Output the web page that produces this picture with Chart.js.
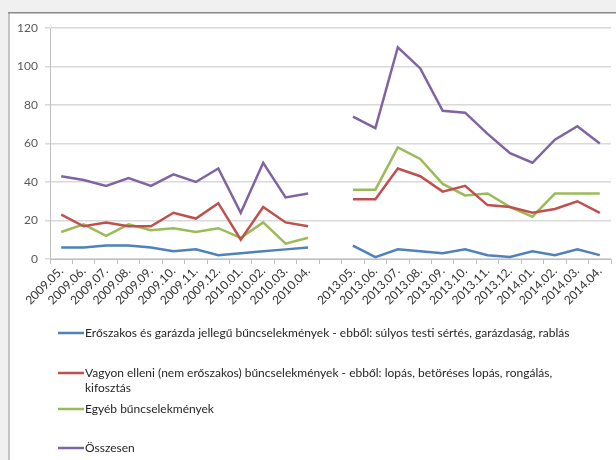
<!DOCTYPE html>
<html>
<head>
<meta charset="utf-8">
<script src="https://cdn.jsdelivr.net/npm/chart.js@4.4.0/dist/chart.umd.min.js"></script>
<style>
html,body{margin:0;padding:0;background:#f0f0f0;}
#wrap{position:relative;width:616px;height:460px;}
canvas{display:block;}
</style>
</head>
<body>
<div id="wrap"><canvas id="c" width="616" height="460"></canvas></div>
<script>
const categories = ['2009.05.','2009.06.','2009.07.','2009.08.','2009.09.','2009.10.','2009.11.','2009.12.','2010.01.','2010.02.','2010.03.','2010.04.','',
  '2013.05.','2013.06.','2013.07.','2013.08.','2013.09.','2013.10.','2013.11.','2013.12.','2014.01.','2014.02.','2014.03.','2014.04.'];
const violent  = [6,6,7,7,6,4,5,2,3,4,5,6,null, 7,1,5,4,3,5,2,1,4,2,5,2];
const property = [23,17,19,17,17,24,21,29,10,27,19,17,null, 31,31,47,43,35,38,28,27,24,26,30,24];
const other    = [14,18,12,18,15,16,14,16,11,19,8,11,null, 36,36,58,52,39,33,34,27,22,34,34,34];
const total    = [43,41,38,42,38,44,40,47,24,50,32,34,null, 74,68,110,99,77,76,65,55,50,62,69,60];
const yTicks = [0,20,40,60,80,100,120];
const seriesLabels = [
  ['Erőszakos és garázda jellegű bűncselekmények - ebből: súlyos testi sértés, garázdaság, rablás'],
  ['Vagyon elleni (nem erőszakos) bűncselekmények - ebből: lopás, betöréses lopás, rongálás,','kifosztás'],
  ['Egyéb bűncselekmények'],
  ['Összesen']
];
const colors = ['#4F81BD','#C0504D','#9BBB59','#8064A2'];
const FONT = 'Lato, "Open Sans", sans-serif';

const framePlugin = {
  id:'frame',
  beforeDraw(chart){
    const ctx = chart.ctx;
    ctx.save();
    ctx.fillStyle = '#f0f0f0';
    ctx.fillRect(0,0,chart.width,chart.height);
    ctx.fillStyle = '#ffffff';
    ctx.fillRect(9,13,chart.width-9,chart.height-13);
    ctx.fillStyle = '#c4c4c4';
    ctx.fillRect(8,13,2,chart.height-13);
    ctx.fillStyle = '#8a8a8a';
    ctx.fillRect(8,12,chart.width-8,1.5);
    ctx.restore();
  }
};

const legendPlugin = {
  id:'customLegend',
  afterDraw(chart){
    const ctx = chart.ctx;
    const ys = [333, 373, 409, 448];
    ctx.save();
    ctx.font = '12px ' + FONT;
    ctx.textBaseline = 'middle';
    chart.data.datasets.forEach((ds,i)=>{
      const y = ys[i];
      ctx.strokeStyle = ds.borderColor;
      ctx.lineWidth = 2.5;
      ctx.beginPath();
      ctx.moveTo(58,y); ctx.lineTo(84,y); ctx.stroke();
      ctx.fillStyle = '#262626';
      ds.legendLines.forEach((t,k)=>{
        ctx.fillText(t, 85, y + k*15);
      });
    });
    ctx.restore();
  }
};

const mk = (data,i)=>({
  label: seriesLabels[i].join(' '),
  legendLines: seriesLabels[i],
  data: data,
  borderColor: colors[i],
  backgroundColor: colors[i],
  borderWidth: 2.5,
  pointRadius: 0,
  tension: 0,
  spanGaps: false
});

new Chart(document.getElementById('c'), {
  type:'line',
  data:{
    labels: categories,
    datasets:[mk(violent,0), mk(property,1), mk(other,2), mk(total,3)]
  },
  options:{
    responsive:false,
    animation:false,
    devicePixelRatio:1,
    layout:{padding:{top:28,right:5,bottom:141,left:0}},
    plugins:{legend:{display:false},tooltip:{enabled:false}},
    scales:{
      x:{
        offset:true,
        grid:{display:true,drawOnChartArea:false,drawTicks:true,tickLength:5,offset:true,color:'#bfbfbf'},
        border:{display:true,color:'#bfbfbf'},
        ticks:{autoSkip:false,maxRotation:45,minRotation:45,color:'#333333',font:{family:FONT,size:12},padding:0},
        afterFit(s){ s.height = 60; }
      },
      y:{
        min:0,max:120,
        afterBuildTicks(s){ s.ticks = yTicks.map(v=>({value:v})); },
        grid:{color:'#d9d9d9',lineWidth:1.5,tickLength:5,drawTicks:true},
        border:{display:true,color:'#bfbfbf'},
        ticks:{color:'#595959',font:{family:FONT,size:12},padding:7},
        afterFit(s){ s.width = 50; }
      }
    }
  },
  plugins:[framePlugin, legendPlugin]
});
</script>
</body>
</html>
